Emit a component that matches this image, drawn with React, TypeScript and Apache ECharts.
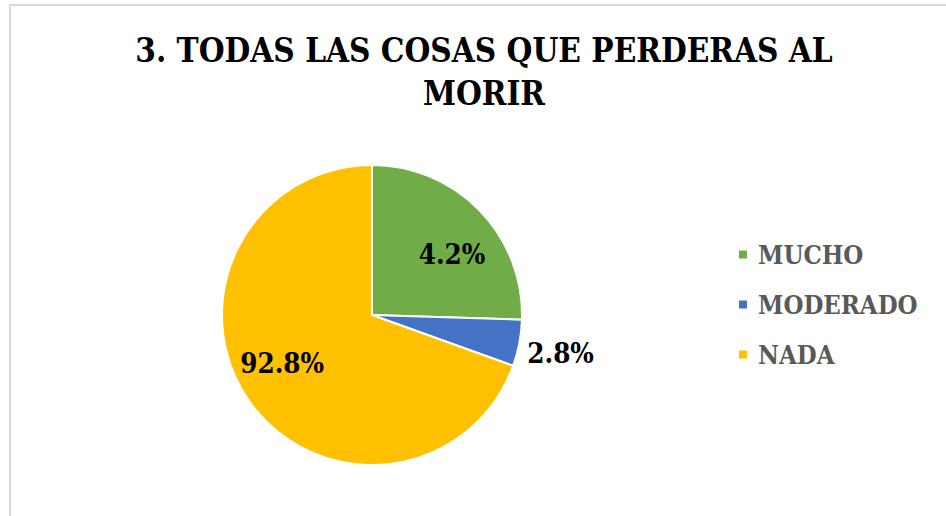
import React, { useEffect, useRef } from "react";
import * as echarts from "echarts";

const TITLE_LINES = ["3. TODAS LAS COSAS QUE PERDERAS AL", "MORIR"];
const CATEGORIES = ["MUCHO", "MODERADO", "NADA"];
const SLICE_VALUES = [25.5, 5.0, 69.5];
const LABEL_TEXTS = ["4.2%", "2.8%", "92.8%"];
const COLORS = ["#70AD47", "#4472C4", "#FFC000"];

const SERIF = "DejaVu Serif Condensed";

export default function App() {
  const ref = useRef<HTMLDivElement>(null);

  useEffect(() => {
    if (!ref.current) return;
    const chart = echarts.init(ref.current, null, { renderer: "svg" });
    const labelShift = [
      [24, -7],
      [112, 23],
      [-26, 3],
    ];
    chart.setOption({
      animation: false,
      backgroundColor: "#ffffff",
      graphic: [
        {
          type: "rect",
          shape: { x: 10, y: 5, width: 1000, height: 600 },
          style: { fill: "none", stroke: "#d9d9d9", lineWidth: 2 },
          silent: true,
        },
        {
          type: "text",
          x: 484,
          y: 29,
          style: {
            text: TITLE_LINES.join("\n"),
            fill: "#000000",
            fontFamily: SERIF,
            fontWeight: "bold",
            fontSize: 33,
            lineHeight: 43,
            align: "center",
          },
        },
      ],
      legend: {
        orient: "vertical",
        left: 732,
        top: 236,
        icon: "rect",
        itemWidth: 10,
        itemHeight: 10,
        itemGap: 23,
        selectedMode: false,
        textStyle: {
          fontFamily: SERIF,
          fontWeight: "bold",
          fontSize: 25.5,
          lineHeight: 27,
          color: "#595959",
          padding: [0, 0, 0, 5],
        },
        data: CATEGORIES,
      },
      series: [
        {
          type: "pie",
          center: [372, 315],
          radius: 150,
          startAngle: 90,
          clockwise: true,
          avoidLabelOverlap: false,
          itemStyle: { borderColor: "#ffffff", borderWidth: 2 },
          label: {
            show: true,
            position: "inside",
            fontFamily: SERIF,
            fontWeight: "bold",
            fontSize: 27.5,
            color: "#000000",
            formatter: (p: any) => LABEL_TEXTS[p.dataIndex],
          },
          labelLine: { show: false },
          labelLayout: (p: any) => ({
            dx: labelShift[p.dataIndex][0],
            dy: labelShift[p.dataIndex][1],
          }),
          emphasis: { disabled: true },
          data: CATEGORIES.map((name, i) => ({
            name,
            value: SLICE_VALUES[i],
            itemStyle: { color: COLORS[i] },
          })),
        },
      ],
    });
    return () => chart.dispose();
  }, []);

  return (
    <div
      ref={ref}
      style={{ position: "fixed", left: 0, top: 0, width: 946, height: 516 }}
    />
  );
}
